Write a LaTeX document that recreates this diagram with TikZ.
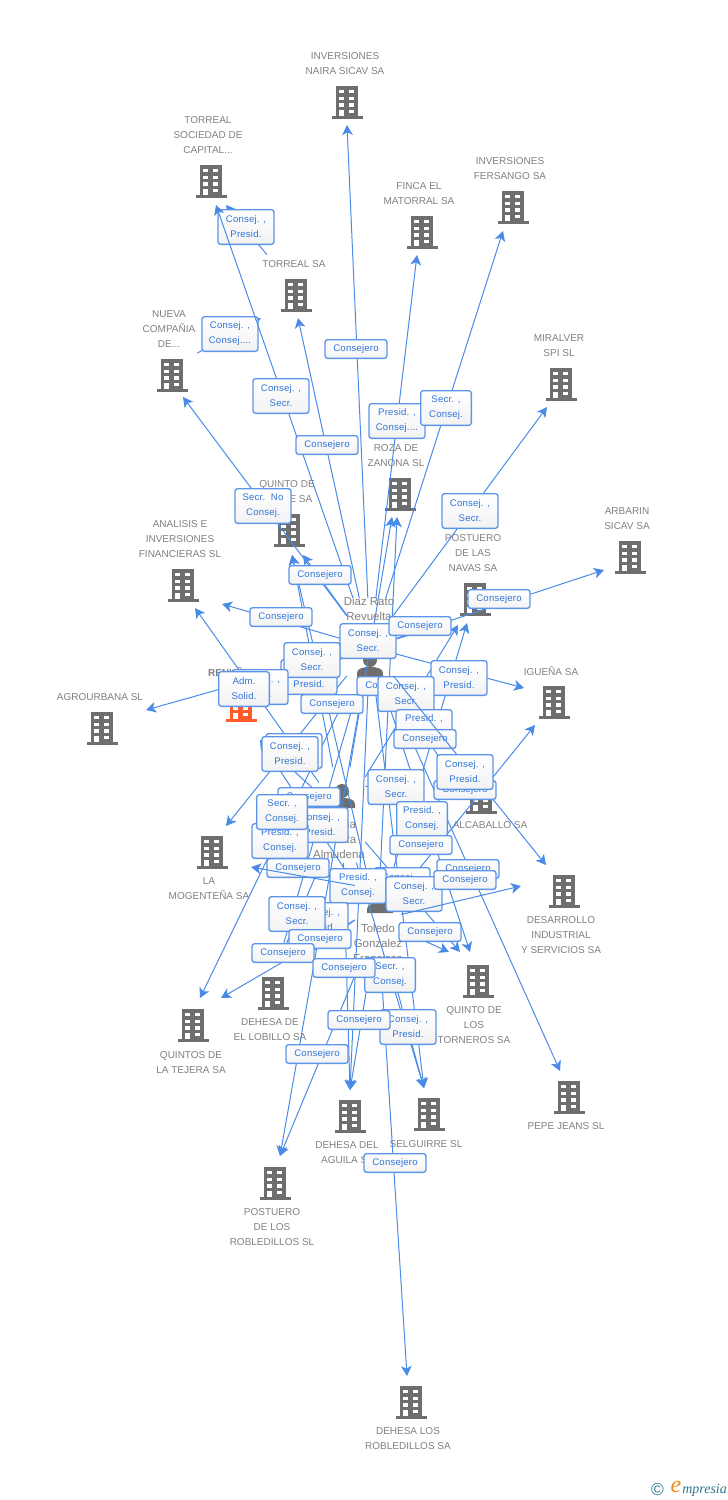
\documentclass[tikz,border=0pt]{standalone}
\usepackage{fontspec}
\setmainfont{Liberation Sans}
\newfontfamily\rolefont[LetterSpace=2]{Liberation Sans}
\newfontfamily\logofont{Liberation Serif}
\usetikzlibrary{arrows.meta}
\definecolor{edgeblue}{HTML}{4A8BE8}
\definecolor{roleline}{HTML}{5B95EA}
\definecolor{roletext}{HTML}{2F74D8}
\definecolor{labgray}{HTML}{808080}
\definecolor{iconset}{HTML}{6E6E6E}
\definecolor{iconred}{HTML}{FF5A2A}
\definecolor{logoblue}{HTML}{2F7390}
\definecolor{logoorange}{HTML}{F08A1C}
\tikzset{
  pics/building/.style={code={
    \fill[pic actions] (-11,-16.5) rectangle (11,14);
    \fill[pic actions] (-15.5,14) rectangle (15.5,16.5);
    \foreach \wy in {-12,-5.4,1.2} {
      \fill[white] (-7.7,\wy) rectangle (-2.6,\wy+3.4);
      \fill[white] (2.3,\wy) rectangle (7.4,\wy+3.4);
    }
    \fill[white] (-7.7,7.6) rectangle (-2.6,14);
    \fill[white] (2.3,7.6) rectangle (7.4,11.4);
  }},
  pics/person/.style={code={
    \fill[iconset] (0,0) circle (7);
    \fill[iconset] (-13,17) -- (-13,13) .. controls (-13,8) and (-6,7) .. (0,7) .. controls (6,7) and (13,8) .. (13,13) -- (13,17) -- cycle;
  }},
  edge/.style={edgeblue,line width=0.75pt,-{Stealth[length=7.5pt,width=8pt,inset=2pt]}},
  hub/.style 2 args={inner sep=0pt,minimum width=#1*0.75pt,minimum height=#2*0.75pt},
  complabel/.style={font=\fontsize{7.5}{11.25}\selectfont,text=labgray,align=center,inner sep=0pt},
  perslabel/.style={font=\fontsize{8.6}{11.25}\selectfont,text=labgray,align=center,inner sep=0pt},
  rolebase/.style={draw=roleline,line width=1pt,rounded corners=2pt,top color=white,bottom color=black!5,
    font=\rolefont\fontsize{7.2}{11.25}\selectfont,text=roletext,align=center,inner sep=0pt},
  roleone/.style={rolebase,minimum width=46.5pt,minimum height=14pt},
  roletwo/.style={rolebase,minimum width=42pt,minimum height=26pt},
  rolenar/.style={rolebase,minimum width=38pt,minimum height=26pt},
}
\begin{document}
\begin{tikzpicture}[x=0.75pt,y=-0.75pt]
\useasboundingbox (0,0) rectangle (728,1500);

% companies
\pic[fill=iconset] at (347,102) {building};
\node[complabel] (lNaira) at (345,63.5) {INVERSIONES\\NAIRA SICAV SA};
\pic[fill=iconset] at (211,181) {building};
\node[complabel] (lTorreal) at (208,135) {TORREAL\\SOCIEDAD DE\\CAPITAL...};
\pic[fill=iconset] at (422,232) {building};
\node[complabel] (lFinca) at (419,193.5) {FINCA EL\\MATORRAL SA};
\pic[fill=iconset] at (513,207) {building};
\node[complabel] (lFersango) at (510,168.5) {INVERSIONES\\FERSANGO SA};
\pic[fill=iconset] at (296,295) {building};
\node[complabel] (lTorrealSa) at (294,264) {TORREAL SA};
\pic[fill=iconset] at (172,375) {building};
\node[complabel] (lNueva) at (169,329) {NUEVA\\COMPAÑIA\\DE...};
\pic[fill=iconset] at (561,384) {building};
\node[complabel] (lMiralver) at (559,345.5) {MIRALVER\\SPI SL};
\pic[fill=iconset] at (400,494) {building};
\node[complabel] (lRoza) at (396,455.5) {ROZA DE\\ZANONA SL};
\pic[fill=iconset] at (289,530) {building};
\node[complabel] (lFelipe) at (287,491.5) {QUINTO DE\\FELIPE SA};
\pic[fill=iconset] at (630,557) {building};
\node[complabel] (lArbarin) at (627,519) {ARBARIN\\SICAV SA};
\pic[fill=iconset] at (183,585) {building};
\node[complabel] (lAnalisis) at (180,539) {ANALISIS E\\INVERSIONES\\FINANCIERAS SL};
\pic[fill=iconset] at (475,599) {building};
\node[complabel] (lNavas) at (473,553) {POSTUERO\\DE LAS\\NAVAS SA};
\pic[fill=iconred] at (241,705) {building};
\node[complabel,font=\fontsize{7.5}{11.25}\selectfont\bfseries] (lRenunez) at (240,672) {RENUÑEZ SL};
\pic[fill=iconset] at (102,728) {building};
\node[complabel] (lAgro) at (100,697) {AGROURBANA SL};
\pic[fill=iconset] at (554,702) {building};
\node[complabel] (lIguena) at (551,671) {IGUEÑA SA};
\pic[fill=iconset] at (212,852) {building};
\node[complabel] (lMogente) at (209,888.5) {LA\\MOGENTEÑA SA};
\pic[fill=iconset] at (481,797) {building};
\node[complabel] (lAlcaballo) at (490,825) {ALCABALLO SA};
\pic[fill=iconset] at (564,891) {building};
\node[complabel] (lDesarrollo) at (561,935) {DESARROLLO\\INDUSTRIAL\\Y SERVICIOS SA};
\pic[fill=iconset] at (478,981) {building};
\node[complabel] (lTorneros) at (474,1025) {QUINTO DE\\LOS\\TORNEROS SA};
\pic[fill=iconset] at (273,993) {building};
\node[complabel] (lLobillo) at (270,1029.5) {DEHESA DE\\EL LOBILLO SA};
\pic[fill=iconset] at (193,1025) {building};
\node[complabel] (lTejera) at (191,1062.5) {QUINTOS DE\\LA TEJERA SA};
\pic[fill=iconset] at (569,1097) {building};
\node[complabel] (lPepe) at (566,1126) {PEPE JEANS SL};
\pic[fill=iconset] at (350,1116) {building};
\node[complabel] (lAguila) at (347,1152.5) {DEHESA DEL\\AGUILA SL};
\pic[fill=iconset] at (429,1114) {building};
\node[complabel] (lSelguirre) at (426,1144) {SELGUIRRE SL};
\pic[fill=iconset] at (275,1183) {building};
\node[complabel] (lPostRob) at (272,1227) {POSTUERO\\DE LOS\\ROBLEDILLOS SL};
\pic[fill=iconset] at (411,1402) {building};
\node[complabel] (lDehesaRob) at (408,1438.5) {DEHESA LOS\\ROBLEDILLOS SA};

% persons
\pic at (370,660) {person};
\node[perslabel] (lDiaz) at (369,608.5) {Diaz Rato\\Revuelta};
\pic at (342,791) {person};
\node[perslabel] (lGarcia) at (339,839) {Garcia\\Huerta\\Almudena};
\pic at (380,896) {person};
\node[perslabel] (lToledo) at (378,943) {Toledo\\Gonzalez\\Francisco};

% sources of the connectors
\node[hub={46}{97}] (dr) at (370,647) {};
\node[hub={46}{95}] (ma) at (342,815) {};
\node[hub={46}{104}] (tg) at (378,920) {};
\node[hub={66}{70}] (torrealsa) at (296,290) {};
\node[hub={50}{70}] (nueva) at (172,367) {};

% arrow ends
\coordinate (tNaira) at (347,125);
\coordinate (tTorrealA) at (216,205);
\coordinate (tTorrealB) at (226,205);
\coordinate (tFinca) at (417,255);
\coordinate (tFersango) at (503,231);
\coordinate (tTorrealSaA) at (298,318);
\coordinate (tTorrealSaB) at (261,318);
\coordinate (tNueva) at (183,397);
\coordinate (tMiralver) at (547,407);
\coordinate (tRozaA) at (392,517);
\coordinate (tRozaB) at (397,517);
\coordinate (tFelipeA) at (292,555);
\coordinate (tFelipeB) at (303,555);
\coordinate (tArbarin) at (604,570);
\coordinate (tAnalisisA) at (195,608);
\coordinate (tAnalisisB) at (222,604);
\coordinate (tNavasA) at (452,622);
\coordinate (tNavasB) at (458,625);
\coordinate (tNavasC) at (467,623);
\coordinate (tRenunezA) at (278,685);
\coordinate (tRenunezB) at (260,740);
\coordinate (tAgro) at (146,710);
\coordinate (tIguenaA) at (524,688);
\coordinate (tIguenaB) at (535,725);
\coordinate (tMogenteA) at (226,826);
\coordinate (tMogenteB) at (254,824);
\coordinate (tMogenteC) at (251,867);
\coordinate (tAlcaballoA) at (455,783);
\coordinate (tAlcaballoB) at (423,787);
\coordinate (tDesarrolloA) at (546,865);
\coordinate (tDesarrolloB) at (521,886);
\coordinate (tTornerosA) at (449,952);
\coordinate (tTornerosB) at (460,952);
\coordinate (tTornerosC) at (470,952);
\coordinate (tLobilloA) at (278,963);
\coordinate (tLobilloB) at (297,963);
\coordinate (tTejeraA) at (200,998);
\coordinate (tTejeraB) at (221,998);
\coordinate (tPepe) at (560,1071);
\coordinate (tAguila) at (350,1090);
\coordinate (tSelguirre) at (424,1088);
\coordinate (tPostRob) at (280,1156);
\coordinate (tDehesaRob) at (407,1376);

% connectors
\draw[edge] (dr) -- (tNaira);
\draw[edge] (dr) -- (tFinca);
\draw[edge] (dr) -- (tFersango);
\draw[edge] (dr) -- (tMiralver);
\draw[edge] (dr) -- (tTorrealSaA);
\draw[edge] (dr) -- (tNueva);
\draw[edge] (dr) -- (tArbarin);
\draw[edge] (dr) -- (tNavasA);
\draw[edge] (dr) -- (tFelipeB);
\draw[edge] (dr) -- (tAnalisisB);
\draw[edge] (dr) -- (tRenunezA);
\draw[edge] (dr) -- (tAgro);
\draw[edge] (dr) -- (tIguenaA);
\draw[edge] (dr) -- (tPepe);
\draw[edge] (dr) -- (tMogenteA);
\draw[edge] (dr) -- (tTejeraA);
\draw[edge] (dr) -- (tTornerosC);
\draw[edge] (dr) -- (tSelguirre);
\draw[edge] (dr) -- (tAguila);
\draw[edge] (dr) -- (tPostRob);
\draw[edge] (dr) -- (tLobilloA);
\draw[edge] (dr) -- (tAlcaballoA);
\draw[edge] (ma) -- (tRozaA);
\draw[edge] (ma) -- (tFelipeA);
\draw[edge] (ma) -- (tAnalisisA);
\draw[edge] (ma) -- (tNavasB);
\draw[edge] (ma) -- (tRenunezB);
\draw[edge] (ma) -- (tMogenteB);
\draw[edge] (ma) -- (tTornerosB);
\draw[edge] (ma) -- (tSelguirre);
\draw[edge] (ma) -- (tAguila);
\draw[edge] (ma) -- (tLobilloA);
\draw[edge] (ma.51) -- (tAlcaballoB);
\draw[edge] (tg) -- (tRozaB);
\draw[edge] (tg) -- (tFelipeA);
\draw[edge] (tg) -- (tNavasC);
\draw[edge] (tg) -- (tIguenaB);
\draw[edge] (tg) -- (tRenunezB);
\draw[edge] (tg) -- (tTornerosA);
\draw[edge] (tg) -- (tSelguirre);
\draw[edge] (tg) -- (tAguila);
\draw[edge] (tg) -- (tPostRob);
\draw[edge] (tg) -- (tDehesaRob);
\draw[edge] (tg.west) -- (tLobilloB);
\draw[edge] (tg.west) -- (tTejeraB);
\draw[edge] (torrealsa) -- (tTorrealB);
\draw[edge] (nueva) -- (tTorrealSaB);

% roles, some connectors pass over the boxes before them
\node[roletwo] (r1) at (246,227) {Consej. ,\\Presid.};
\node[roletwo] (r2) at (230,334) {Consej. ,\\Consej....};
\draw[edge] (dr) -- (tTorrealA);
\node[roleone] (r3) at (356,349) {Consejero};
\node[roletwo] (r4) at (281,396) {Consej. ,\\Secr.};
\node[roleone] (r5) at (327,445) {Consejero};
\node[roletwo] (r6) at (397,421) {Presid. ,\\Consej....};
\node[rolenar] (r7) at (446,408) {Secr. ,\\Consej.};
\node[roletwo] (r8) at (263,506) {Secr.\ \ No\\Consej.};
\node[roletwo] (r9) at (470,511) {Consej. ,\\Secr.};
\node[roleone] (r10) at (320,575) {Consejero};
\node[roleone] (r11) at (499,599) {Consejero};
\node[roleone] (r12) at (281,617) {Consejero};
\node[roletwo] (r14) at (368,641) {Consej. ,\\Secr.};
\node[roleone] (r13) at (420,626) {Consejero};
\node[roletwo] (r16) at (309,677) {Consej. ,\\Presid.};
\node[roletwo] (r15) at (312,660) {Consej. ,\\Secr.};
\node[roletwo] (r17) at (260,687) {Consej. ,\\Secr.};
\node[rolenar] (r18) at (244,689) {Adm.\\Solid.};
\node[roleone] (r19) at (332,704) {Consejero};
\node[roletwo] (r22) at (459,678) {Consej. ,\\Presid.};
\node[roleone] (r20) at (388,686) {Consejero};
\node[roletwo] (r21) at (406,694) {Consej. ,\\Secr.};
\node[roletwo] (r23) at (424,727) {Presid. ,\\Consej.};
\node[roleone] (r24) at (425,739) {Consejero};
\draw[edge] (dr) -- (tDesarrolloA);
\node[roleone] (r26) at (465,790) {Consejero};
\node[roletwo] (r25) at (465,772) {Consej. ,\\Presid.};
\node[roletwo] (r27) at (396,787) {Consej. ,\\Secr.};
\node[roletwo] (r28b) at (294,751) {Consej. ,\\Presid.};
\node[roletwo] (r28) at (290,754) {Consej. ,\\Presid.};
\node[roleone] (r29) at (309,797) {Consejero};
\node[roletwo] (r32) at (320,825) {Consej. ,\\Presid.};
\node[roletwo] (r31) at (280,841) {Presid. ,\\Consej.};
\node[rolenar] (r30) at (282,812) {Secr. ,\\Consej.};
\node[rolenar] (r33) at (422,819) {Presid. ,\\Consej.};
\node[roleone] (r34) at (421,845) {Consejero};
\node[roleone] (r35) at (298,868) {Consejero};
\node[roletwo] (r37b) at (402,885) {Consej. ,\\Secr.};
\node[roletwo] (r36) at (358,886) {Presid. ,\\Consej.};
\draw[edge] (tg.124) -- (tMogenteC);
\node[roletwo] (r37) at (414,894) {Consej. ,\\Secr.};
\draw[edge] (tg) -- (tDesarrolloB);
\node[roleone] (r38) at (468,869) {Consejero};
\node[roleone] (r39) at (465,880) {Consejero};
\node[roletwo] (r41) at (320,920) {Consej. ,\\Presid.};
\node[roletwo] (r40) at (297,914) {Consej. ,\\Secr.};
\node[roleone] (r42) at (320,939) {Consejero};
\node[roleone] (r43) at (283,953) {Consejero};
\node[roleone] (r44) at (430,932) {Consejero};
\node[rolenar] (r46) at (390,975) {Secr. ,\\Consej.};
\node[roleone] (r45) at (344,968) {Consejero};
\node[roletwo] (r48) at (408,1027) {Consej. ,\\Presid.};
\node[roleone] (r47) at (359,1020) {Consejero};
\node[roleone] (r49) at (317,1054) {Consejero};
\node[roleone] (r50) at (395,1163) {Consejero};

% logo
\node[text=logoblue,font=\fontsize{13}{13}\selectfont,inner sep=0pt] (logoc) at (657.5,1489) {©};
\node[text=logoorange,font=\logofont\itshape\fontsize{18}{18}\selectfont,inner sep=0pt] (logoe) at (676,1487) {e};
\node[text=logoblue,font=\logofont\itshape\fontsize{10.5}{11}\selectfont,inner sep=0pt,anchor=west] (logow) at (682,1490) {mpresia};
\end{tikzpicture}
\end{document}
